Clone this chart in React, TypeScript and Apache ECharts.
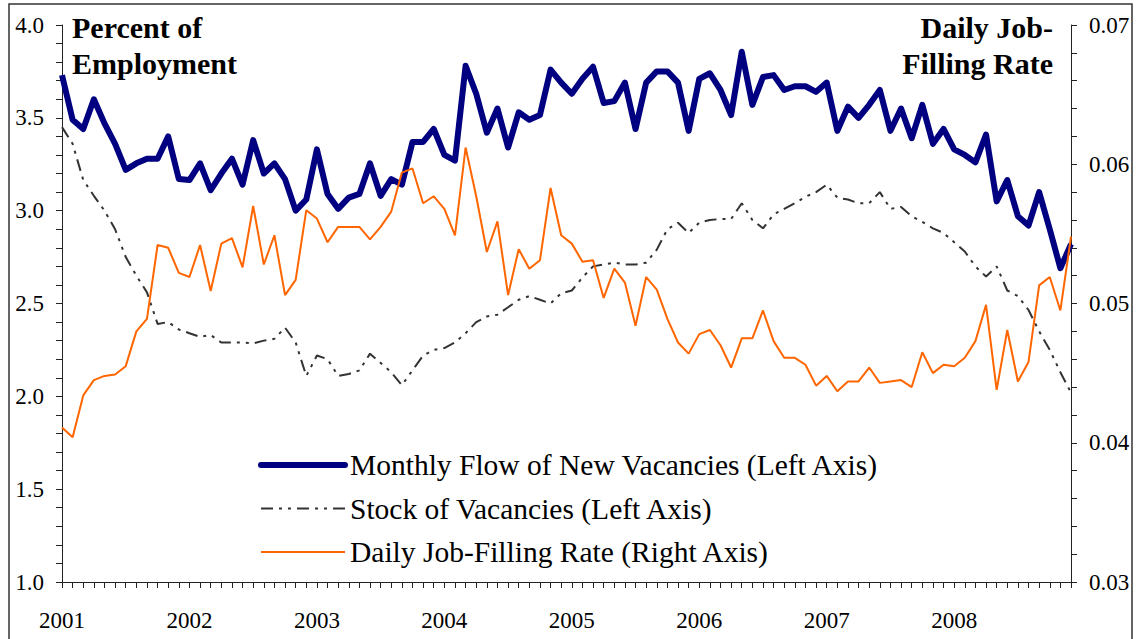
import React, { useEffect, useRef } from "react";
import * as echarts from "echarts";

const years = ["2001", "2002", "2003", "2004", "2005", "2006", "2007", "2008"];
const months = years.flatMap((y) =>
  ["01", "02", "03", "04", "05", "06", "07", "08", "09", "10", "11", "12"].map((m) => `${y}-${m}`)
);

const flowNew = [
  3.73, 3.49, 3.44, 3.60, 3.47, 3.36, 3.22, 3.255, 3.28, 3.28, 3.40, 3.17,
  3.165, 3.255, 3.11, 3.20, 3.28, 3.14, 3.38, 3.20, 3.255, 3.17, 3.00, 3.06,
  3.33, 3.09, 3.01, 3.07, 3.09, 3.255, 3.08, 3.17, 3.14, 3.37, 3.37, 3.44,
  3.30, 3.27, 3.78, 3.63, 3.42, 3.55, 3.34, 3.53, 3.49, 3.515, 3.76, 3.69,
  3.63, 3.71, 3.775, 3.58, 3.59, 3.69, 3.44, 3.69, 3.75, 3.75, 3.69, 3.43,
  3.71, 3.74, 3.65, 3.515, 3.856, 3.57, 3.72, 3.73, 3.65, 3.67, 3.67, 3.64,
  3.69, 3.43, 3.56, 3.50, 3.57, 3.65, 3.43, 3.55, 3.39, 3.57, 3.36, 3.44,
  3.33, 3.30, 3.26, 3.41, 3.05, 3.165, 2.97, 2.92, 3.10, 2.90, 2.69, 2.82,
];

const stockVac = [
  3.45, 3.36, 3.165, 3.08, 3.00, 2.90, 2.75, 2.65, 2.56, 2.39, 2.40, 2.36,
  2.34, 2.32, 2.33, 2.29, 2.29, 2.29, 2.285, 2.30, 2.31, 2.37, 2.29, 2.11,
  2.22, 2.20, 2.11, 2.12, 2.14, 2.23, 2.18, 2.13, 2.06, 2.14, 2.22, 2.25,
  2.26, 2.29, 2.34, 2.40, 2.43, 2.44, 2.48, 2.52, 2.54, 2.52, 2.50, 2.555,
  2.57, 2.64, 2.70, 2.71, 2.72, 2.71, 2.71, 2.72, 2.79, 2.90, 2.935, 2.88,
  2.935, 2.95, 2.955, 2.955, 3.04, 2.95, 2.905, 2.98, 3.01, 3.04, 3.075, 3.10,
  3.14, 3.07, 3.06, 3.04, 3.04, 3.10, 3.01, 3.02, 2.97, 2.94, 2.905, 2.88,
  2.83, 2.78, 2.70, 2.645, 2.70, 2.57, 2.54, 2.465, 2.35, 2.25, 2.13, 2.02,
];

const fillRate = [
  0.0411, 0.0404, 0.0434, 0.0445, 0.0448, 0.0449, 0.0455, 0.0480, 0.0489, 0.0542, 0.0540, 0.0522,
  0.0519, 0.0542, 0.0509, 0.0543, 0.0547, 0.0526, 0.0570, 0.0528, 0.0549, 0.0506, 0.0517, 0.0567,
  0.0561, 0.0544, 0.0555, 0.0555, 0.0555, 0.0546, 0.0555, 0.0566, 0.0594, 0.0597, 0.0572, 0.0577,
  0.0568, 0.0549, 0.0612, 0.0577, 0.0537, 0.0559, 0.0506, 0.0539, 0.0525, 0.0531, 0.0583, 0.0549,
  0.0543, 0.0530, 0.0531, 0.0504, 0.0525, 0.0515, 0.0484, 0.0519, 0.0510, 0.0489, 0.0472, 0.0464,
  0.0478, 0.0481, 0.0470, 0.0454, 0.0475, 0.0475, 0.0495, 0.0473, 0.0461, 0.0461, 0.0456, 0.0441,
  0.0448, 0.0437, 0.0444, 0.0444, 0.0454, 0.0443, 0.0444, 0.0445, 0.0440, 0.0465, 0.0450, 0.0456,
  0.0455, 0.0461, 0.0473, 0.0499, 0.0438, 0.0481, 0.0444, 0.0458, 0.0513, 0.0519, 0.0495, 0.0548,
];

const seriesNames = [
  "Monthly Flow of New Vacancies (Left Axis)",
  "Stock of Vacancies (Left Axis)",
  "Daily Job-Filling Rate (Right Axis)",
];

const FONT = '"Liberation Serif", "Times New Roman", serif';
const NAVY = "#000080";
const ORANGE = "#FF6600";
const DARK = "#333333";
const DASHDOT = [12, 6, 3, 6, 3, 6];

export default function App() {
  const ref = useRef<HTMLDivElement>(null);

  useEffect(() => {
    if (!ref.current) return;
    const chart = echarts.init(ref.current, null, { renderer: "svg" });
    const axisLine = { show: true, lineStyle: { color: "#222", width: 1 } };
    const label = { fontFamily: FONT, fontSize: 23, color: "#000" };
    const hiddenSymbol = { opacity: 0, color: "rgba(0,0,0,0)", borderWidth: 0 };
    chart.setOption({
      animation: false,
      backgroundColor: "#fff",
      grid: { left: 62, right: 67, top: 25, bottom: 57, containLabel: false },
      xAxis: {
        type: "category",
        data: months,
        boundaryGap: false,
        axisLine,
        axisTick: { show: true, interval: 0, length: 6, lineStyle: { color: "#222" } },
        axisLabel: {
          ...label,
          margin: 27,
          interval: (i: number) => i % 12 === 0,
          formatter: (v: string) => v.slice(0, 4),
        },
        splitLine: { show: false },
      },
      yAxis: [
        {
          type: "value",
          min: 1,
          max: 4,
          interval: 0.5,
          position: "left",
          axisLine,
          axisTick: { show: true, length: 6, lineStyle: { color: "#222" } },
          minorTick: { show: true, splitNumber: 5, length: 6, lineStyle: { color: "#222" } },
          axisLabel: { ...label, margin: 18, formatter: (v: number) => v.toFixed(1) },
          splitLine: { show: false },
        },
        {
          type: "value",
          min: 0.03,
          max: 0.07,
          interval: 0.01,
          position: "right",
          axisLine,
          axisTick: { show: true, length: 6, lineStyle: { color: "#222" } },
          minorTick: { show: true, splitNumber: 5, length: 6, lineStyle: { color: "#222" } },
          axisLabel: { ...label, margin: 18, formatter: (v: number) => v.toFixed(2) },
          splitLine: { show: false },
        },
      ],
      legend: {
        orient: "vertical",
        left: 258,
        top: 450,
        padding: 0,
        itemWidth: 84,
        itemHeight: 14,
        itemGap: 13.5,
        textStyle: { fontFamily: FONT, fontSize: 29.5, color: "#000", lineHeight: 30 },
        data: [
          { name: seriesNames[0], lineStyle: { width: 6, color: NAVY, cap: "round" }, itemStyle: hiddenSymbol },
          { name: seriesNames[1], lineStyle: { width: 2, color: DARK, type: DASHDOT }, itemStyle: hiddenSymbol },
          { name: seriesNames[2], lineStyle: { width: 2, color: ORANGE }, itemStyle: hiddenSymbol },
        ],
        selectedMode: false,
      },
      graphic: [
        {
          type: "rect",
          shape: { x: 9, y: 4, width: 1123, height: 700 },
          style: { fill: "none", stroke: "#333", lineWidth: 1.5 },
          silent: true,
        },
        {
          type: "text",
          x: 72,
          y: 9,
          style: {
            text: "Percent of\nEmployment",
            font: `bold 30px ${FONT}`,
            lineHeight: 36,
            fill: "#000",
            align: "left",
            verticalAlign: "top",
          },
        },
        {
          type: "text",
          x: 1053,
          y: 9,
          style: {
            text: "Daily Job-\nFilling Rate",
            font: `bold 30px ${FONT}`,
            lineHeight: 36,
            fill: "#000",
            align: "right",
            verticalAlign: "top",
          },
        },
      ],
      series: [
        {
          name: seriesNames[0],
          type: "line",
          yAxisIndex: 0,
          data: flowNew,
          symbol: "none",
          lineStyle: { width: 6, color: NAVY, join: "round" },
          itemStyle: { color: NAVY },
        },
        {
          name: seriesNames[1],
          type: "line",
          yAxisIndex: 0,
          data: stockVac,
          symbol: "none",
          lineStyle: { width: 2, color: DARK, type: DASHDOT },
          itemStyle: { color: DARK },
        },
        {
          name: seriesNames[2],
          type: "line",
          yAxisIndex: 1,
          data: fillRate,
          symbol: "none",
          lineStyle: { width: 2, color: ORANGE },
          itemStyle: { color: ORANGE },
        },
      ],
    });
    return () => chart.dispose();
  }, []);

  return (
    <div
      ref={ref}
      style={{ position: "absolute", left: 0, top: 0, width: 1138, height: 639, background: "#fff" }}
    />
  );
}
